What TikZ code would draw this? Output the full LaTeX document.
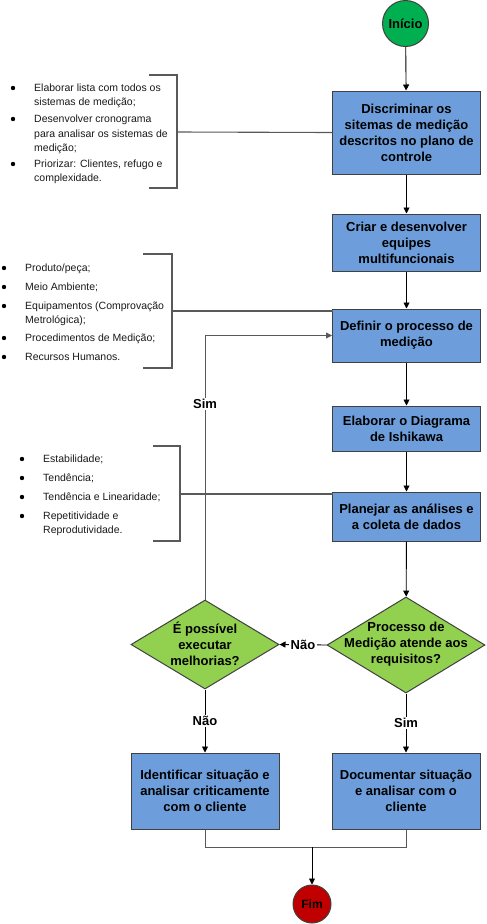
\documentclass[tikz,border=0pt]{standalone}
\usepackage{fontspec}
\setmainfont{Liberation Sans}
\usetikzlibrary{shapes.geometric,arrows.meta}
\definecolor{boxblue}{HTML}{6D9EDB}
\definecolor{dgreen}{HTML}{92D050}
\definecolor{sgreen}{HTML}{00B050}
\definecolor{fred}{HTML}{C00000}
\definecolor{edge}{HTML}{404040}
\definecolor{brk}{HTML}{595959}
\tikzset{
  procbox/.style={draw=edge,fill=boxblue,line width=1pt,minimum width=148pt,align=center,inner sep=0pt,
    font=\fontsize{13}{16}\selectfont\bfseries},
  decbox/.style={diamond,draw=edge,fill=dgreen,line width=1pt,inner sep=0pt},
  dectext/.style={align=center,inner sep=0pt,font=\fontsize{13}{16}\selectfont\bfseries},
  term/.style={circle,draw=edge,line width=1pt,inner sep=0pt,font=\fontsize{13}{16}\selectfont\bfseries},
  conn/.style={draw=black,line width=0.9pt,-{Triangle[length=6pt,width=6pt]}},
  plain/.style={draw=black,line width=0.9pt},
  bracket/.style={draw=brk,line width=1.1pt},
  lbl/.style={fill=white,inner sep=1.5pt,font=\fontsize{13}{16}\selectfont\bfseries},
  itemtext/.style={anchor=base west,inner sep=0pt,text=black!90,font=\fontsize{10.5}{14}\selectfont},
  dot/.style={fill=black}
}
\begin{document}
\begin{tikzpicture}[x=1pt,y=-1pt]
\useasboundingbox (0,0) rectangle (487,924);
% terminals
\node[term,fill=sgreen,minimum size=46pt] (start) at (405.5,23.5) {Início};
\node[term,fill=fred,minimum size=38pt,font=\fontsize{12}{14}\selectfont\bfseries] (fim) at (312,904) {Fim};
% process boxes
\node[procbox,minimum height=83pt] (b1) at (406.5,132.5) {Discriminar os\\sitemas de medição\\descritos no plano de\\controle};
\node[procbox,minimum height=57pt] (b2) at (406.5,242.5) {Criar e desenvolver\\equipes\\multifuncionais};
\node[procbox,minimum height=53pt] (b3) at (406.5,335.5) {Definir o processo de\\medição};
\node[procbox,minimum height=45pt] (b4) at (406.5,428.5) {Elaborar o Diagrama\\de Ishikawa};
\node[procbox,minimum height=49pt] (b5) at (406.5,516.5) {Planejar as análises e\\a coleta de dados};
\node[procbox,minimum height=76pt] (b6) at (205,791) {Identificar situação e\\analisar criticamente\\com o cliente};
\node[procbox,minimum height=76pt] (b7) at (406,791) {Documentar situação\\e analisar com o\\cliente};
% decisions
\node[decbox,minimum width=158pt,minimum height=96pt] (dR) at (406,645) {};
\node[dectext] (dRt) at (406,644) {Processo de\\Medição atende aos\\requisitos?};
\node[decbox,minimum width=148pt,minimum height=89pt] (dL) at (205,644.5) {};
\node[dectext] (dLt) at (205,644) {É possível\\executar\\melhorias?};
% main flow
\draw[conn] (start) -- (b1);
\draw[conn] (b1) -- (b2);
\draw[conn] (b2) -- (b3);
\draw[conn] (b3) -- (b4);
\draw[conn] (b4) -- (b5);
\draw[conn] (b5) -- (dR);
\draw[conn] (dR.west) -- (dL.east) node[lbl,midway] (nao1) {Não};
\draw[conn] (dR.south) -- (b7.north) node[lbl,pos=0.5] (sim2) {Sim};
\draw[conn] (dL.south) -- (b6.north) node[lbl,pos=0.5] (nao2) {Não};
\draw[conn,draw=brk] (dL.north) |- (b3.west) node[lbl,pos=0.37] (sim1) {Sim};
\coordinate (merge) at (312,847);
\draw[plain,draw=brk] (b6.south) |- (merge) -| (b7.south);
\draw[conn] (merge) -- (fim);
% bracket 1
\draw[bracket] (149,75) -- (177,75) -- (177,188) -- (149,188);
\draw[bracket] (177,132) -- (b1.west);
\foreach \yy in {88,119,164} \fill[dot] (13,\yy) circle (2.2pt);
\node[itemtext] (l1a1) at (34,91.5) {Elaborar lista com todos os};
\node[itemtext] (l1a2) at (34,105.5) {sistemas de medição;};
\node[itemtext] (l1b1) at (34,122.5) {Desenvolver cronograma};
\node[itemtext] (l1b2) at (34,137) {para analisar os sistemas de};
\node[itemtext] (l1b3) at (34,151) {medição;};
\node[itemtext] (l1c1) at (34,167.5) {Priorizar: Clientes, refugo e};
\node[itemtext] (l1c2) at (34,181.5) {complexidade.};
% bracket 2
\draw[bracket] (143,254) -- (172,254) -- (172,368) -- (143,368);
\coordinate (c2) at (333,311);
\draw[bracket] (172,311) -- (c2);
\foreach \yy in {268,287,306,338,357} \fill[dot] (4,\yy) circle (2.2pt);
\node[itemtext] (l2a) at (25,271.5) {Produto/peça;};
\node[itemtext] (l2b) at (25,290.5) {Meio Ambiente;};
\node[itemtext] (l2c1) at (25,309.5) {Equipamentos (Comprovação};
\node[itemtext] (l2c2) at (25,323.5) {Metrológica);};
\node[itemtext] (l2d) at (25,341.5) {Procedimentos de Medição;};
\node[itemtext] (l2e) at (25,360.5) {Recursos Humanos.};
% bracket 3
\draw[bracket] (153,446) -- (180,446) -- (180,541) -- (153,541);
\coordinate (c3) at (333,494);
\draw[bracket] (180,494) -- (c3);
\foreach \yy in {459,478,497,516} \fill[dot] (22,\yy) circle (2.2pt);
\node[itemtext] (l3a) at (43,462.5) {Estabilidade;};
\node[itemtext] (l3b) at (43,481.5) {Tendência;};
\node[itemtext] (l3c) at (43,500.5) {Tendência e Linearidade;};
\node[itemtext] (l3d1) at (43,519.5) {Repetitividade e};
\node[itemtext] (l3d2) at (43,533.5) {Reprodutividade.};
\end{tikzpicture}
\end{document}
